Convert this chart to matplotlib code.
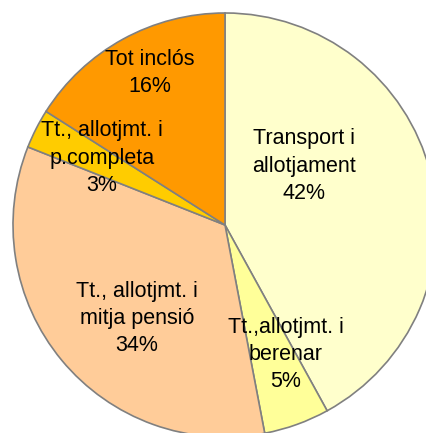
import matplotlib

matplotlib.use("Agg")
import matplotlib.pyplot as plt

plt.rcParams["font.family"] = ["Liberation Sans", "DejaVu Sans"]

# 数据：比例（%），顺时针从 12 点开始
categories = [
    "Transport i\nallotjament",
    "Tt.,allotjmt. i\nberenar",
    "Tt., allotjmt. i\nmitja pensió",
    "Tt., allotjmt. i\np.completa",
    "Tot inclós",
]
shares = [42, 5, 34, 3, 16]

colors = ["#FFFFCC", "#FFFF99", "#FFCC99", "#FFCC00", "#FF9900"]
# 标签中心（以半径为单位，手工摆放以贴近原图）
label_pos = [(0.375, 0.278), (0.288, -0.611), (-0.415, -0.441), (-0.580, 0.316), (-0.354, 0.715)]

fig = plt.figure(figsize=(4.27, 4.33), dpi=100)
ax = fig.add_axes([0, 0, 1, 1])
ax.pie(
    shares,
    colors=colors,
    startangle=90,
    counterclock=False,
    radius=1.0,
    wedgeprops={"edgecolor": "#808080", "linewidth": 1.2},
)
for name, val, (x, y) in zip(categories, shares, label_pos):
    ax.text(x, y, f"{name}\n{val}%", ha="center", va="center",
            fontsize=15.5, linespacing=1.38, color="black")

R = 212.0
ax.set_xlim(-225 / R, (427 - 225) / R)
ax.set_ylim(-(433 - 225) / R, 225 / R)
ax.set_aspect("auto")
ax.axis("off")
fig.savefig("out.png", dpi=100)
